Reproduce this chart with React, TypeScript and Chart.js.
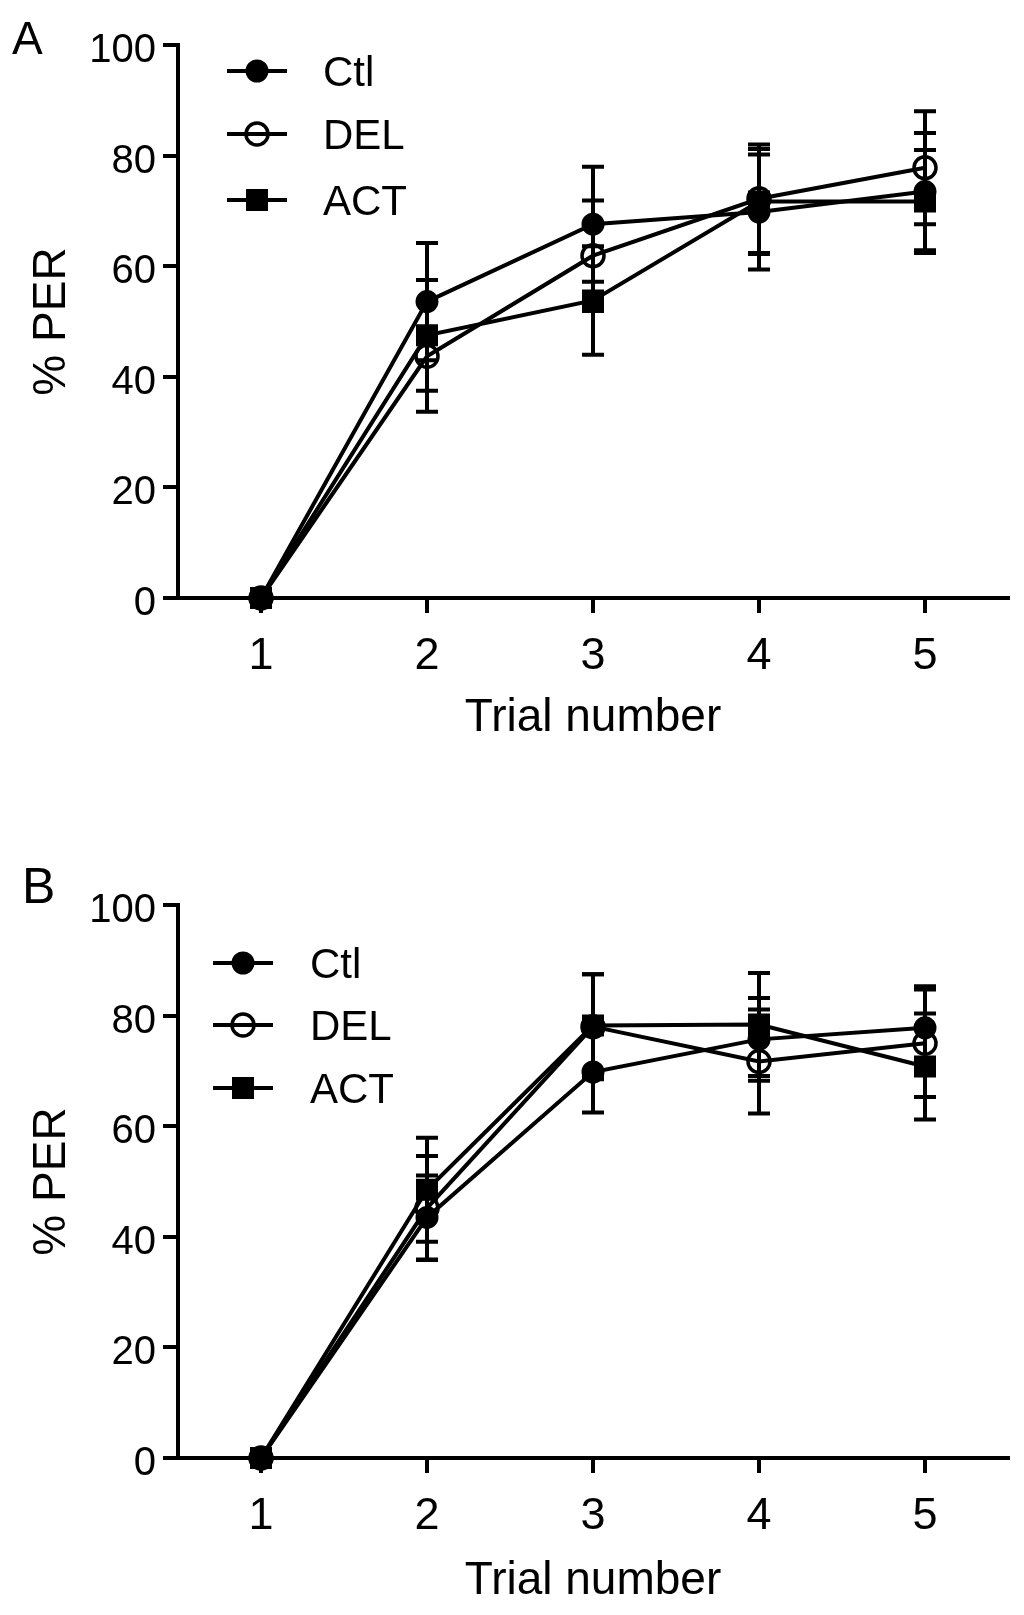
import { useEffect, useRef } from 'react';
import { Chart, registerables } from 'chart.js';

Chart.register(...registerables);

Chart.defaults.font.family = '"Liberation Sans", Arial, sans-serif';
Chart.defaults.color = '#000';

const trials = [1, 2, 3, 4, 5];
const groups = ['Ctl', 'DEL', 'ACT'];
const yTicks = [0, 20, 40, 60, 80, 100];

// panel A: % PER per trial (mean and error)
const ctlA = [0, 53.6, 67.6, 69.8, 73.5];
const ctlAErr = [0, 10.6, 10.4, 10.4, 10.6];
const delA = [0, 43.7, 61.9, 72.2, 77.8];
const delAErr = [0, 10, 10, 9.8, 10.2];
const actA = [0, 47.5, 53.8, 71.7, 71.7];
const actAErr = [0, 10, 9.8, 9.5, 9.3];

// panel B
const ctlB = [0, 43.5, 69.8, 75.7, 77.8];
const ctlBErr = [0, 7.6, 7.3, 7.5, 7.5];
const delB = [0, 45.2, 78, 71.7, 75];
const delBErr = [0, 9.4, 9.5, 9.4, 9.7];
const actB = [0, 48.5, 78.2, 78.4, 70.8];
const actBErr = [0, 9.4, 9.3, 9.3, 9.6];

const LW = 4;

const markerStyles = [
    { pointStyle: 'circle', pointRadius: 10.5, pointBorderWidth: 2, pointBackgroundColor: '#000' },
    { pointStyle: 'circle', pointRadius: 11, pointBorderWidth: 3.5, pointBackgroundColor: 'rgba(0,0,0,0)' },
    { pointStyle: 'rect', pointRadius: 14.5, pointBorderWidth: 1.5, pointBackgroundColor: '#000' },
];

const errorBars = {
    id: 'errorBars',
    beforeDatasetsDraw(chart: any) {
        const { ctx } = chart;
        const y = chart.scales.y;
        ctx.save();
        ctx.strokeStyle = '#000';
        ctx.lineWidth = LW;
        chart.data.datasets.forEach((ds: any, i: number) => {
            const meta = chart.getDatasetMeta(i);
            ds.errors.forEach((e: number, j: number) => {
                if (!e) return;
                const px = meta.data[j].x;
                const v = ds.data[j].y;
                const top = y.getPixelForValue(v + e);
                const bot = y.getPixelForValue(v - e);
                ctx.beginPath();
                ctx.moveTo(px, top);
                ctx.lineTo(px, bot);
                ctx.moveTo(px - 11, top);
                ctx.lineTo(px + 11, top);
                ctx.moveTo(px - 11, bot);
                ctx.lineTo(px + 11, bot);
                ctx.stroke();
            });
        });
        ctx.restore();
    },
};

// legend: short line with the marker on it, then the label
const lineLegend = {
    id: 'lineLegend',
    afterDraw(chart: any, _args: any, opts: any) {
        const { ctx } = chart;
        ctx.save();
        chart.data.datasets.forEach((ds: any, i: number) => {
            const y = opts.rows[i];
            const mx = (opts.x0 + opts.x1) / 2;
            ctx.strokeStyle = '#000';
            ctx.fillStyle = '#000';
            ctx.lineWidth = LW;
            ctx.beginPath();
            ctx.moveTo(opts.x0, y);
            ctx.lineTo(opts.x1, y);
            ctx.stroke();
            if (ds.pointStyle === 'rect') {
                const s = ds.pointRadius * Math.SQRT1_2 + ds.pointBorderWidth / 2;
                ctx.fillRect(mx - s, y - s, 2 * s, 2 * s);
            } else {
                ctx.beginPath();
                ctx.arc(mx, y, ds.pointRadius, 0, Math.PI * 2);
                ctx.lineWidth = ds.pointBorderWidth;
                if (ds.pointBackgroundColor === '#000') ctx.fill();
                ctx.stroke();
            }
            ctx.font = '42px "Liberation Sans", Arial, sans-serif';
            ctx.textAlign = 'left';
            ctx.textBaseline = 'middle';
            ctx.fillText(ds.label, opts.tx, y + 3);
        });
        ctx.restore();
    },
};

const panels = [
    {
        letter: 'A', top: 0, height: 800, areaTop: 45, xHeight: 202, titlePad: 54,
        letterPos: { left: 12, top: 15, size: 46 },
        values: [ctlA, delA, actA], errors: [ctlAErr, delAErr, actAErr],
        legend: { x0: 227, x1: 287, tx: 323, rows: [71, 134, 200] },
    },
    {
        letter: 'B', top: 800, height: 815, areaTop: 105, xHeight: 157, titlePad: 6,
        letterPos: { left: 22, top: 61, size: 50 },
        values: [ctlB, delB, actB], errors: [ctlBErr, delBErr, actBErr],
        legend: { x0: 213, x1: 273, tx: 310, rows: [163, 225, 288] },
    },
];

const Panel = ({ panel }: { panel: any }) => {
    const canvasRef = useRef<HTMLCanvasElement | null>(null);
    const chartRef = useRef<Chart | null>(null);

    useEffect(() => {
        const ctx = canvasRef.current?.getContext('2d');
        if (!ctx) return;

        const datasets = groups.map((g, i) => ({
            label: g,
            data: trials.map((t, j) => ({ x: t, y: panel.values[i][j] })),
            errors: panel.errors[i],
            borderColor: '#000',
            borderWidth: LW,
            pointBorderColor: '#000',
            tension: 0,
            clip: false,
            ...markerStyles[i],
        }));

        chartRef.current = new Chart(ctx, {
            type: 'line',
            data: { datasets } as any,
            options: {
                responsive: false,
                animation: false,
                events: [],
                layout: { padding: { top: panel.areaTop, right: 16, left: 0, bottom: 0 } },
                plugins: {
                    legend: { display: false },
                    tooltip: { enabled: false },
                    lineLegend: panel.legend,
                } as any,
                scales: {
                    x: {
                        type: 'linear',
                        min: 0.5,
                        max: 5.5,
                        afterBuildTicks: (s: any) => { s.ticks = trials.map((v) => ({ value: v })); },
                        afterFit: (s: any) => { s.height = panel.xHeight; },
                        grid: { drawOnChartArea: false, drawTicks: true, tickLength: 15, color: '#000', lineWidth: LW },
                        border: { display: true, color: '#000', width: LW },
                        ticks: { font: { size: 45 }, padding: 17, maxRotation: 0 },
                        title: { display: true, text: 'Trial number', font: { size: 46 }, padding: { top: 0, bottom: panel.titlePad } },
                    },
                    y: {
                        min: 0,
                        max: 100,
                        afterBuildTicks: (s: any) => { s.ticks = yTicks.map((v) => ({ value: v })); },
                        afterFit: (s: any) => { s.width = 178; },
                        grid: { drawOnChartArea: false, drawTicks: true, tickLength: 15, color: '#000', lineWidth: LW },
                        border: { display: true, color: '#000', width: LW },
                        ticks: { font: { size: 40 }, padding: 7, labelOffset: 6 },
                        title: { display: true, text: '% PER', font: { size: 46 }, padding: { top: 25, bottom: 0 } },
                    },
                } as any,
            },
            plugins: [errorBars, lineLegend],
        });
        return () => chartRef.current?.destroy();
    }, []);

    return (
        <div style={{ position: 'absolute', left: 0, top: panel.top, width: 1024, height: panel.height }}>
            <canvas ref={canvasRef} width={1024} height={panel.height} style={{ display: 'block', width: 1024, height: panel.height }} />
            <div
                style={{
                    position: 'absolute',
                    left: panel.letterPos.left,
                    top: panel.letterPos.top,
                    fontFamily: '"Liberation Sans", Arial, sans-serif',
                    fontSize: panel.letterPos.size,
                    lineHeight: 1,
                    color: '#000',
                }}
            >
                {panel.letter}
            </div>
        </div>
    );
};

const App = () => (
    <div style={{ position: 'absolute', left: 0, top: 0, width: 1024, height: 1615, background: '#fff' }}>
        {panels.map((p) => <Panel key={p.letter} panel={p} />)}
    </div>
);

export default App;
